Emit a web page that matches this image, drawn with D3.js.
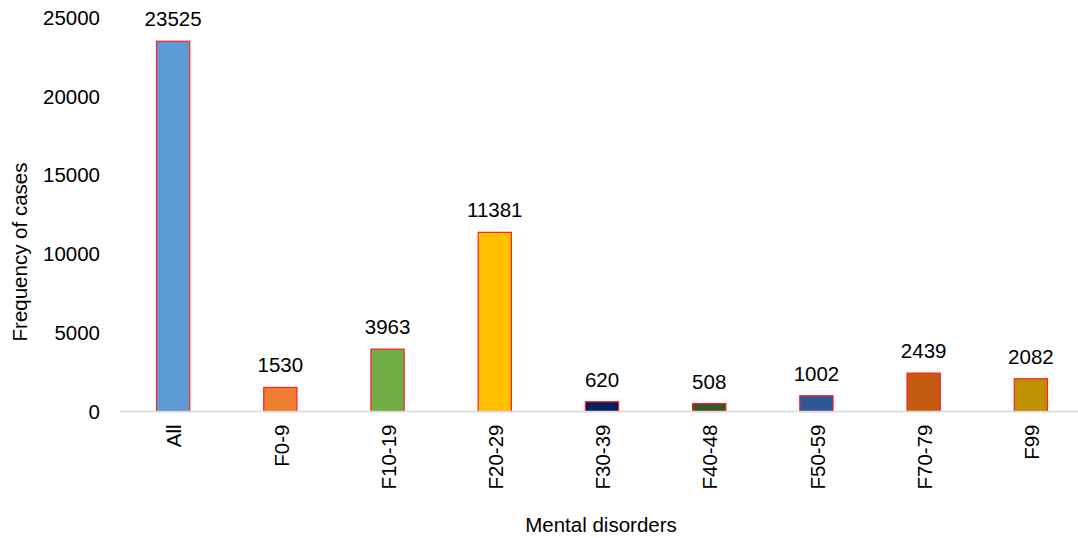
<!DOCTYPE html>
<html>
<head>
<meta charset="utf-8">
<script src="https://cdn.jsdelivr.net/npm/d3@7"></script>
<style>
  html, body { margin: 0; padding: 0; background: #fff; }
  svg text { font-family: "Liberation Sans", Arial, Helvetica, sans-serif; fill: #000; }
</style>
</head>
<body>
<svg id="chart" width="1078" height="538"></svg>
<script>
// Mental disorder groups and their case counts
const categories = ["All", "F0-9", "F10-19", "F20-29", "F30-39", "F40-48", "F50-59", "F70-79", "F99"];
const cases = [23525, 1530, 3963, 11381, 620, 508, 1002, 2439, 2082];
const barColors = ["#5B9BD5", "#ED7D31", "#70AD47", "#FFC000", "#002060", "#375623", "#2F5597", "#C55A11", "#BF9000"];
const yTicks = [0, 5000, 10000, 15000, 20000, 25000];

const FONT = 20.5;
const svg = d3.select("#chart");

const x = d3.scaleBand()
  .domain(categories)
  .range([119.5, 1084.5])
  .paddingInner(0.69)
  .paddingOuter(0.345);

const y = d3.scaleLinear()
  .domain([0, 25000])
  .range([411.5, 18]);

// Y tick labels (no axis line, no tick marks)
const yAxis = svg.append("g")
  .attr("transform", "translate(100,0)")
  .call(d3.axisLeft(y).tickValues(yTicks).tickSize(0).tickPadding(0).tickFormat(d3.format("d")));
yAxis.select(".domain").remove();
yAxis.selectAll("text")
  .attr("font-size", FONT)
  .style("font-family", "'Liberation Sans', Arial, sans-serif");

// Bars
svg.append("g").selectAll("rect")
  .data(categories)
  .join("rect")
  .attr("x", d => x(d))
  .attr("width", x.bandwidth())
  .attr("y", (d, i) => y(cases[i]))
  .attr("height", (d, i) => y(0) - y(cases[i]))
  .attr("fill", (d, i) => barColors[i])
  .attr("stroke", "#FF2020")
  .attr("stroke-width", 1.2);

// Baseline
svg.append("line")
  .attr("x1", 119.5).attr("x2", 1078)
  .attr("y1", y(0)).attr("y2", y(0))
  .attr("stroke", "#D9D9D9")
  .attr("stroke-width", 1.5);

// Value labels
svg.append("g").selectAll("text")
  .data(categories)
  .join("text")
  .attr("x", d => x(d) + x.bandwidth() / 2)
  .attr("y", (d, i) => y(cases[i]) - 15)
  .attr("text-anchor", "middle")
  .attr("font-size", FONT)
  .text((d, i) => cases[i]);

// Category labels, rotated
const xAxis = svg.append("g")
  .attr("transform", `translate(0,${y(0)})`)
  .call(d3.axisBottom(x).tickSize(0).tickPadding(0));
xAxis.select(".domain").remove();
xAxis.selectAll("text")
  .attr("font-size", FONT)
  .style("font-family", "'Liberation Sans', Arial, sans-serif")
  .attr("text-anchor", "end")
  .attr("dy", "0.35em")
  .attr("transform", "translate(1,13) rotate(-90)")
  .attr("x", 0)
  .attr("y", 0);

// Axis titles
svg.append("text")
  .attr("transform", "translate(26.5,252) rotate(-90)")
  .attr("text-anchor", "middle")
  .attr("font-size", FONT)
  .text("Frequency of cases");

svg.append("text")
  .attr("x", 601)
  .attr("y", 532)
  .attr("text-anchor", "middle")
  .attr("font-size", FONT)
  .text("Mental disorders");
</script>
</body>
</html>
